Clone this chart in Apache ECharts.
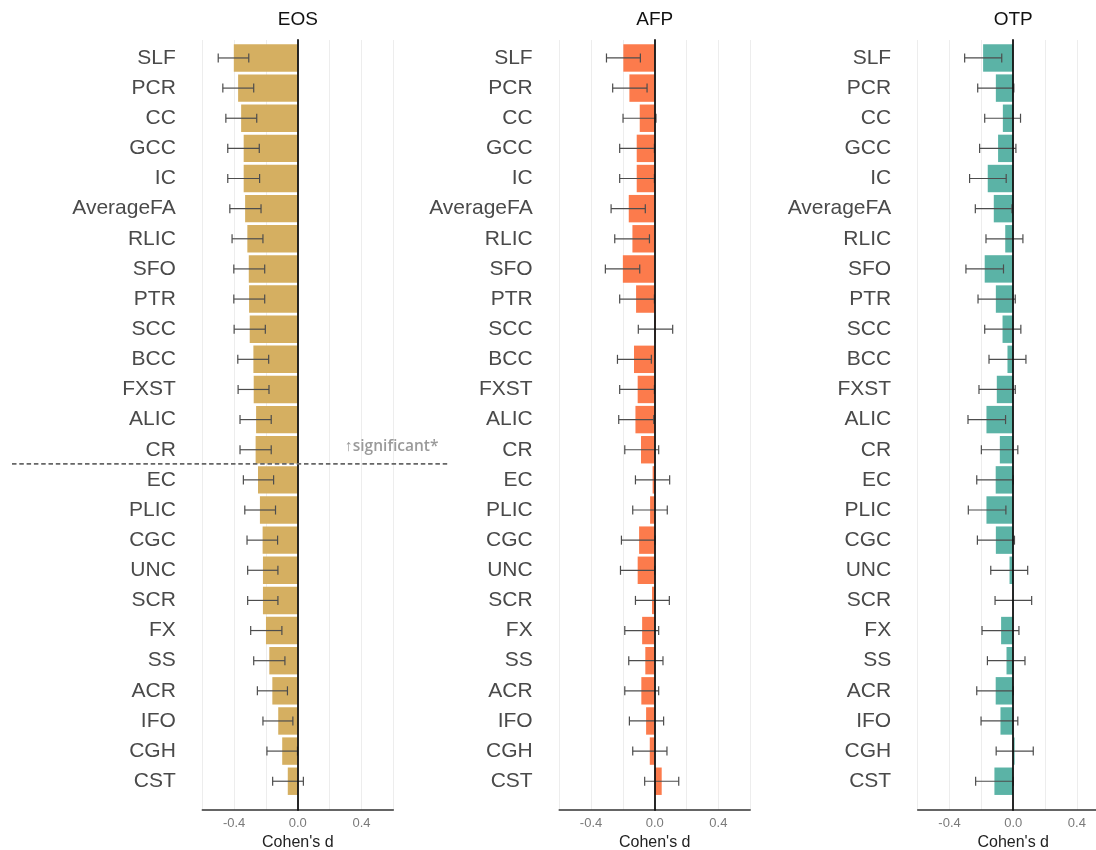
<!DOCTYPE html>
<html><head><meta charset="utf-8">
<script src="https://cdn.jsdelivr.net/npm/echarts@6/dist/echarts.min.js"></script>
<style>html,body{margin:0;padding:0;background:#fff}#c{width:1096px;height:850px}</style>
</head><body><div id="c"></div>
<script>
const categories = ['SLF','PCR','CC','GCC','IC','AverageFA','RLIC','SFO','PTR','SCC','BCC','FXST','ALIC','CR','EC','PLIC','CGC','UNC','SCR','FX','SS','ACR','IFO','CGH','CST'];
const panelNames = ['EOS','AFP','OTP'];
const panelColors = ['#D5AF61','#FC7B4C','#5BB3A6'];
const xTickLabels = ['-0.4','0.0','0.4'];

const eosD  = [-0.402,-0.375,-0.356,-0.340,-0.340,-0.331,-0.317,-0.308,-0.306,-0.302,-0.279,-0.277,-0.262,-0.265,-0.250,-0.238,-0.221,-0.219,-0.219,-0.200,-0.179,-0.160,-0.123,-0.098,-0.063];
const eosLo = [-0.500,-0.471,-0.452,-0.440,-0.440,-0.427,-0.413,-0.402,-0.402,-0.400,-0.377,-0.375,-0.363,-0.363,-0.342,-0.333,-0.319,-0.315,-0.315,-0.296,-0.277,-0.254,-0.219,-0.194,-0.158];
const eosHi = [-0.308,-0.277,-0.258,-0.242,-0.240,-0.231,-0.219,-0.208,-0.208,-0.204,-0.183,-0.181,-0.167,-0.167,-0.152,-0.140,-0.127,-0.125,-0.125,-0.100,-0.081,-0.065,-0.031,-0.002,0.035];

const afpD  = [-0.197,-0.159,-0.094,-0.113,-0.113,-0.163,-0.140,-0.200,-0.117,0.005,-0.130,-0.107,-0.121,-0.086,-0.013,-0.029,-0.098,-0.107,-0.017,-0.079,-0.059,-0.084,-0.054,-0.031,0.044];
const afpLo = [-0.303,-0.264,-0.199,-0.220,-0.220,-0.274,-0.251,-0.310,-0.220,-0.103,-0.234,-0.220,-0.226,-0.188,-0.121,-0.138,-0.209,-0.215,-0.121,-0.188,-0.163,-0.188,-0.159,-0.138,-0.063];
const afpHi = [-0.090,-0.048,0.008,-0.002,-0.002,-0.059,-0.033,-0.094,-0.002,0.113,-0.021,-0.002,-0.006,0.025,0.094,0.079,0.002,0.000,0.092,0.025,0.052,0.025,0.056,0.077,0.151];

const otpD  = [-0.189,-0.109,-0.065,-0.095,-0.160,-0.122,-0.050,-0.179,-0.109,-0.067,-0.036,-0.103,-0.168,-0.084,-0.110,-0.168,-0.109,-0.023,0.001,-0.076,-0.042,-0.110,-0.080,0.009,-0.118];
const otpLo = [-0.305,-0.223,-0.179,-0.211,-0.274,-0.238,-0.171,-0.297,-0.221,-0.179,-0.152,-0.215,-0.284,-0.200,-0.229,-0.282,-0.225,-0.141,-0.114,-0.196,-0.162,-0.229,-0.202,-0.107,-0.236];
const otpHi = [-0.072,0.004,0.046,0.017,-0.044,-0.008,0.061,-0.061,0.013,0.048,0.080,0.013,-0.048,0.029,0.000,-0.046,0.008,0.091,0.116,0.036,0.074,0.000,0.029,0.126,0.000];

const panelData = [[eosD,eosLo,eosHi],[afpD,afpLo,afpHi],[otpD,otpLo,otpHi]];

const LEFTS = [202.3, 559.2, 917.7];
const WIDTH = 191;
const FONT = "'Liberation Sans', Arial, sans-serif";

const grid = [], xAxis = [], yAxis = [], series = [];
panelNames.forEach((name, p) => {
  const a = 2*p, b = 2*p+1;
  grid[a] = {left: LEFTS[p], width: WIDTH, top: 40, height: 770, containLabel: false, outerBoundsMode: 'none'};
  grid[b] = {left: LEFTS[p], width: WIDTH, top: 42.9, height: 753.4, containLabel: false, outerBoundsMode: 'none'};
  xAxis[a] = {
    gridIndex: a, type: 'value', min: -0.6, max: 0.6, interval: 0.2,
    axisLine: {show: true, onZero: false, lineStyle: {color: '#333', width: 1.5}},
    axisTick: {show: false},
    splitLine: {show: true, lineStyle: {color: '#ededed', width: 1}},
    axisLabel: {
      margin: 7, fontSize: 13, color: '#7a7a7a', fontFamily: FONT,
      formatter: v => { const s = (Math.round(v*10)/10).toFixed(1); return xTickLabels.includes(s) ? s : ''; }
    },
    name: "Cohen's d", nameLocation: 'middle', nameGap: 23,
    nameTextStyle: {fontSize: 16, color: '#222', fontFamily: FONT}
  };
  xAxis[b] = {gridIndex: b, type: 'value', min: -0.6, max: 0.6, show: false};
  yAxis[a] = {
    gridIndex: a, type: 'value', min: 0, max: 1, z: 10,
    axisLine: {show: true, onZero: true, lineStyle: {color: '#111', width: 1.8}},
    axisTick: {show: false}, axisLabel: {show: false}, splitLine: {show: false}
  };
  yAxis[b] = {
    gridIndex: b, type: 'category', data: categories, inverse: true,
    axisLine: {show: false}, axisTick: {show: false}, splitLine: {show: false},
    axisLabel: {margin: 26.5, fontSize: 21, color: '#4a4a4a', fontFamily: FONT}
  };
  const [d, lo, hi] = panelData[p];
  series.push({
    type: 'bar', xAxisIndex: b, yAxisIndex: b, data: d,
    barCategoryGap: '9%', itemStyle: {color: panelColors[p]}, z: 2, silent: true
  });
  series.push({
    type: 'custom', xAxisIndex: b, yAxisIndex: b, z: 5, silent: true,
    data: categories.map((c, i) => [lo[i], hi[i], i]),
    encode: {x: [0, 1], y: 2},
    renderItem: function (params, api) {
      const yi = api.value(2);
      const p1 = api.coord([api.value(0), yi]);
      const p2 = api.coord([api.value(1), yi]);
      const h = api.size([0, 1])[1] * 0.15;
      const style = {stroke: '#4d4d4d', lineWidth: 1.2};
      return {type: 'group', children: [
        {type: 'line', shape: {x1: p1[0], y1: p1[1], x2: p2[0], y2: p2[1]}, style: style},
        {type: 'line', shape: {x1: p1[0], y1: p1[1]-h, x2: p1[0], y2: p1[1]+h}, style: style},
        {type: 'line', shape: {x1: p2[0], y1: p2[1]-h, x2: p2[0], y2: p2[1]+h}, style: style}
      ]};
    }
  });
});

const chart = echarts.init(document.getElementById('c'), null, {renderer: 'canvas'});
chart.setOption({
  animation: false, backgroundColor: '#fff',
  grid, xAxis, yAxis, series
});

const gfx = [];
panelNames.forEach((name, p) => {
  const x0 = chart.convertToPixel({xAxisIndex: 2*p}, 0);
  gfx.push({type: 'text', id: 't' + p, x: x0, y: 20,
    style: {text: name, fill: '#111', font: '19px ' + FONT, textAlign: 'center', textVerticalAlign: 'middle'}});
});
const yCR = chart.convertToPixel({yAxisIndex: 1}, 'CR');
const yEC = chart.convertToPixel({yAxisIndex: 1}, 'EC');
const yCut = (yCR + yEC) / 2 - 1;
gfx.push({type: 'line', id: 'cut', z: 20,
  shape: {x1: 12, y1: yCut, x2: 448, y2: yCut},
  style: {stroke: '#666', lineWidth: 1.7, lineDash: [4.5, 2.8]}});
gfx.push({type: 'text', id: 'sig', z: 20, x: 345, y: yCut - 17,
  style: {text: '\u2191significant*', fill: '#9a9a9a',
    font: "600 15.5px 'Open Sans', sans-serif",
    textAlign: 'left', textVerticalAlign: 'middle'}});
chart.setOption({graphic: gfx});
</script>
</body></html>
